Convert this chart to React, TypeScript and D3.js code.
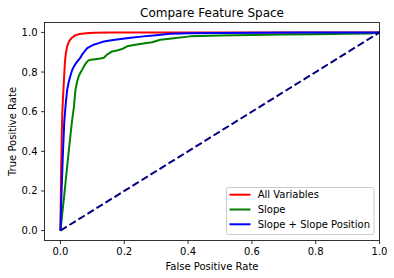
import React from "react";
import * as d3 from "d3";

const redFpr = [0, 0.002, 0.004, 0.006, 0.008, 0.010, 0.012, 0.014, 0.017, 0.021, 0.027, 0.035, 0.046, 0.06, 0.08, 0.105, 0.15, 0.22, 0.35, 0.5, 1];
const redTpr = [0, 0.30, 0.48, 0.60, 0.67, 0.73, 0.79, 0.85, 0.895, 0.93, 0.955, 0.972, 0.985, 0.992, 0.996, 0.998, 0.999, 0.9995, 1, 1, 1];

const greenFpr = [0, 0.012, 0.024, 0.036, 0.042, 0.047, 0.052, 0.057, 0.062, 0.068, 0.074, 0.080, 0.086, 0.094, 0.11, 0.125, 0.136, 0.146, 0.162, 0.18, 0.193, 0.209, 0.23, 0.25, 0.27, 0.287, 0.313, 0.355, 0.407, 0.5, 0.6, 0.7, 0.8, 0.9, 0.97, 1];
const greenTpr = [0, 0.18, 0.37, 0.55, 0.62, 0.71, 0.75, 0.778, 0.795, 0.812, 0.83, 0.845, 0.856, 0.862, 0.865, 0.868, 0.872, 0.888, 0.904, 0.91, 0.916, 0.93, 0.936, 0.942, 0.946, 0.95, 0.963, 0.971, 0.98, 0.984, 0.987, 0.989, 0.991, 0.993, 0.995, 1];

const blueFpr = [0, 0.004, 0.008, 0.012, 0.016, 0.021, 0.026, 0.031, 0.037, 0.043, 0.05, 0.057, 0.063, 0.068, 0.076, 0.084, 0.094, 0.104, 0.12, 0.136, 0.16, 0.183, 0.22, 0.26, 0.30, 0.344, 0.407, 0.5, 0.62, 0.75, 0.9, 1];
const blueTpr = [0, 0.22, 0.40, 0.55, 0.63, 0.71, 0.75, 0.78, 0.812, 0.83, 0.848, 0.862, 0.874, 0.888, 0.905, 0.921, 0.93, 0.938, 0.946, 0.954, 0.96, 0.966, 0.973, 0.98, 0.986, 0.993, 0.996, 0.997, 0.998, 0.999, 0.999, 1];

const diagX = [0, 1];
const diagY = [0, 1];

const seriesNames = ["All Variables", "Slope", "Slope + Slope Position"];
const seriesColors = ["#ff0000", "#008000", "#0000ff"];

const xTicks = [0, 0.2, 0.4, 0.6, 0.8, 1.0];
const yTicks = [0, 0.2, 0.4, 0.6, 0.8, 1.0];

const W = 394, H = 278;
const L = 44.5, R = 379.5, T = 22.5, B = 240.5;
const FONT = "DejaVu Sans, sans-serif";

export default function App() {
  const x = d3.scaleLinear().domain([-0.05, 1.0]).range([L, R]);
  const y = d3.scaleLinear().domain([-0.05, 1.05]).range([B, T]);
  const line = d3.line<[number, number]>().x(d => x(d[0])).y(d => y(d[1]));
  const zip = (a: number[], b: number[]) => a.map((v, i) => [v, b[i]] as [number, number]);
  const series = [zip(redFpr, redTpr), zip(greenFpr, greenTpr), zip(blueFpr, blueTpr)];
  const legY = [194.7, 209.5, 224.3];
  return (
    <svg width={W} height={H} style={{ position: "absolute", left: 0, top: 0, background: "#fff" }} fontFamily={FONT}>
      <rect x={0} y={0} width={W} height={H} fill="#fff" />
      <defs>
        <clipPath id="clip"><rect x={L} y={T} width={R - L} height={B - T} /></clipPath>
      </defs>
      <g clipPath="url(#clip)">
        {series.map((s, i) => (
          <path key={i} d={line(s) || ""} fill="none" stroke={seriesColors[i]} strokeWidth={2} strokeLinejoin="round" />
        ))}
        <path d={line(zip(diagX, diagY)) || ""} fill="none" stroke="#000080" strokeWidth={2} strokeDasharray="7.4,3.2" />
      </g>
      <rect x={L} y={T} width={R - L} height={B - T} fill="none" stroke="#000" strokeWidth={0.8} />
      {xTicks.map(t => (
        <g key={"x" + t}>
          <line x1={x(t)} x2={x(t)} y1={B} y2={B + 3.5} stroke="#000" strokeWidth={0.8} />
          <text x={x(t)} y={B + 7} fontSize={10} textAnchor="middle" dominantBaseline="hanging">{t.toFixed(1)}</text>
        </g>
      ))}
      {yTicks.map(t => (
        <g key={"y" + t}>
          <line x1={L - 3.5} x2={L} y1={y(t)} y2={y(t)} stroke="#000" strokeWidth={0.8} />
          <text x={L - 7} y={y(t)} fontSize={10} textAnchor="end" dominantBaseline="central">{t.toFixed(1)}</text>
        </g>
      ))}
      <text x={(L + R) / 2} y={13} fontSize={12} textAnchor="middle" dominantBaseline="central">Compare Feature Space</text>
      <text x={(L + R) / 2} y={266} fontSize={10} textAnchor="middle" dominantBaseline="central">False Positive Rate</text>
      <text transform={`translate(12,${(T + B) / 2}) rotate(-90)`} fontSize={10} textAnchor="middle" dominantBaseline="central">True Positive Rate</text>
      <rect x={226.5} y={187.5} width={147.5} height={47} rx={2} fill="#fff" fillOpacity={0.8} stroke="#cccccc" strokeWidth={1} />
      {seriesNames.map((n, i) => (
        <g key={n}>
          <line x1={229.5} x2={250.5} y1={legY[i]} y2={legY[i]} stroke={seriesColors[i]} strokeWidth={2} />
          <text x={257.7} y={legY[i]} fontSize={10} dominantBaseline="central">{n}</text>
        </g>
      ))}
    </svg>
  );
}
